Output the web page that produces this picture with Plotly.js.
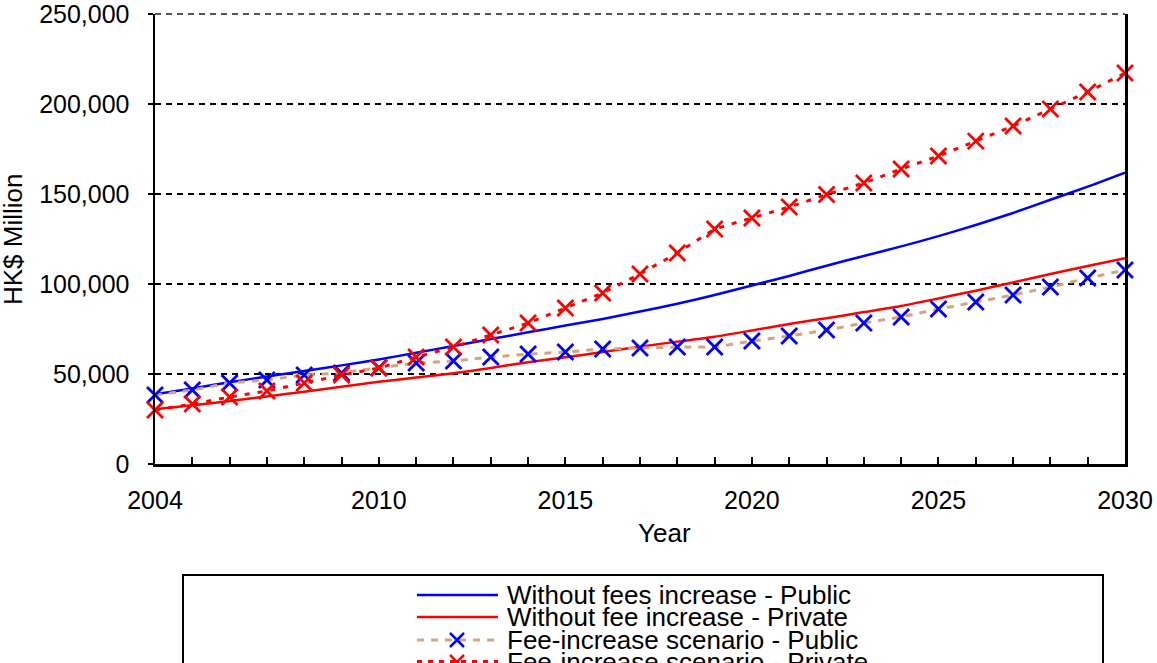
<!DOCTYPE html>
<html>
<head>
<meta charset="utf-8">
<script src="https://cdn.plot.ly/plotly-3.0.1.min.js"></script>
<style>html,body{margin:0;padding:0;background:#fff;}#chart{width:1157px;height:663px;}</style>
</head>
<body>
<div id="chart"></div>
<script>
// ---- data (HK$ Million) ----
const years = [2004,2005,2006,2007,2008,2009,2010,2011,2012,2013,2014,2015,2016,2017,2018,2019,2020,2021,2022,2023,2024,2025,2026,2027,2028,2029,2030];
const withoutPublic = [38800,42000,45400,48600,51700,54800,58100,61800,65600,69400,73200,76900,80600,84700,89000,93900,99200,104500,110200,115600,120900,126600,132800,139500,146800,154100,161900];
const withoutPrivate = [30400,32600,35000,37500,40200,42900,45700,48000,50400,53400,56500,59300,62200,65200,68000,70700,74200,77800,81000,84400,87800,92000,96300,100900,105600,110000,114300];
const feePublic = [38300,41100,45000,46700,49400,50600,53500,56100,57200,59400,61100,62200,63900,64400,65000,65000,68300,71100,74400,78300,81700,86100,90000,93900,98300,103300,107800];
const feePrivate = [30000,33300,37200,40600,45000,49400,53300,59400,65000,71700,78300,86700,95000,105600,117200,130600,136700,142800,149700,156100,163900,171100,179400,187800,197200,206700,217200];
const seriesNames = ["Without fees increase - Public","Without fee increase - Private","Fee-increase scenario - Public","Fee-increase scenario - Private"];
const xTickVals = [2004,2010,2015,2020,2025,2030];
const yTickVals = [0,50000,100000,150000,200000,250000];

const FONT = "Arial, 'Liberation Sans', sans-serif";
const BLUE = "#0000ff", RED = "#ff0000", TAN = "#d6a283";

const traces = [
  {x: years, y: withoutPublic, name: seriesNames[0], mode: "lines",
   line: {color: BLUE, width: 2.5, shape: "spline", smoothing: 0.6}, cliponaxis: false},
  {x: years, y: withoutPrivate, name: seriesNames[1], mode: "lines",
   line: {color: RED, width: 2.5, shape: "spline", smoothing: 0.6}, cliponaxis: false},
  {x: years, y: feePublic, name: seriesNames[2], mode: "lines+markers",
   line: {color: TAN, width: 3, dash: "7px,7px"},
   marker: {symbol: "x-thin", size: 16, color: BLUE, line: {color: BLUE, width: 2.8}}, cliponaxis: false},
  {x: years, y: feePrivate, name: seriesNames[3], mode: "lines+markers",
   line: {color: RED, width: 3, dash: "5px,8px"},
   marker: {symbol: "x-thin", size: 16, color: RED, line: {color: RED, width: 2.8}}, cliponaxis: false}
];

// plot-area geometry helpers for the hand-made legend (pixels -> paper)
const L = 155, R = 1125, T = 14, B = 464;
const px = v => (v - L) / (R - L);
const py = v => (B - v) / (B - T);

const legendRows = [595, 617, 640, 662];
const legendStyles = [
  {color: BLUE, width: 2.5, dash: "solid", marker: null},
  {color: RED, width: 2.5, dash: "solid", marker: null},
  {color: TAN, width: 3, dash: "7px,7px", marker: BLUE},
  {color: RED, width: 4, dash: "5px,6px", marker: RED}
];

const shapes = [
  {type: "rect", xref: "paper", yref: "paper", x0: px(183), x1: px(1103), y0: py(720), y1: py(575),
   line: {color: "black", width: 2}, fillcolor: "white", layer: "below"},
  // top gridline at the 250,000 edge (Plotly drops the edge gridline)
  {type: "line", xref: "paper", yref: "paper", x0: 0, x1: 1, y0: 1, y1: 1,
   line: {color: "#555", width: 2, dash: "6px,5px"}, layer: "below"}
];
const annotations = [
  {text: "Year", xref: "paper", yref: "paper", x: px(664), y: py(533), xanchor: "center", yanchor: "middle",
   showarrow: false, font: {family: FONT, size: 26, color: "black"}},
  {text: "HK$ Million", xref: "paper", yref: "paper", x: px(13), y: 0.5, xanchor: "center", yanchor: "middle",
   textangle: -90, showarrow: false, font: {family: FONT, size: 26, color: "black"}}
];
legendRows.forEach((yy, i) => {
  const st = legendStyles[i];
  shapes.push({type: "line", xref: "paper", yref: "paper", x0: px(417), x1: px(498), y0: py(yy), y1: py(yy),
    line: {color: st.color, width: st.width, dash: st.dash}});
  if (st.marker) {
    shapes.push({type: "path", xref: "paper", yref: "paper", xsizemode: "pixel", ysizemode: "pixel",
      xanchor: px(457), yanchor: py(yy), path: "M-7,-7L7,7M-7,7L7,-7",
      line: {color: st.marker, width: 2.5}});
  }
  annotations.push({text: seriesNames[i], xref: "paper", yref: "paper", x: px(505), y: py(yy),
    xanchor: "left", yanchor: "middle", showarrow: false,
    font: {family: FONT, size: 26, color: "black"}});
});

const layout = {
  width: 1157, height: 663,
  margin: {l: L, r: 1157 - R, t: T, b: 663 - B, pad: 0},
  paper_bgcolor: "white", plot_bgcolor: "white",
  showlegend: false,
  font: {family: FONT, size: 25, color: "black"},
  xaxis: {
    range: [2004, 2030], tickmode: "array", tickvals: xTickVals, ticktext: xTickVals.map(String),
    ticks: "inside", ticklen: 7, tickwidth: 2, tickcolor: "black",
    minor: {tickmode: "linear", tick0: 2004, dtick: 1, ticks: "inside", ticklen: 7, tickwidth: 2, tickcolor: "black", showgrid: false},
    showline: true, linecolor: "black", linewidth: 2.5, mirror: false,
    showgrid: false, zeroline: false, ticklabelstandoff: 12,
    tickfont: {family: FONT, size: 25, color: "black"}
  },
  yaxis: {
    range: [0, 250040], tickmode: "array", tickvals: yTickVals, tickformat: ",d",
    ticks: "outside", ticklen: 5, tickwidth: 2, tickcolor: "black",
    showline: true, linecolor: "black", linewidth: 2.5, mirror: true,
    showgrid: true, gridcolor: "black", gridwidth: 2, griddash: "6px,5px",
    zeroline: false, ticklabelstandoff: 13, ticklabeloverflow: "allow",
    tickfont: {family: FONT, size: 25, color: "black"}
  },
  shapes: shapes,
  annotations: annotations
};

Plotly.newPlot("chart", traces, layout, {displayModeBar: false, staticPlot: true});
</script>
</body>
</html>
